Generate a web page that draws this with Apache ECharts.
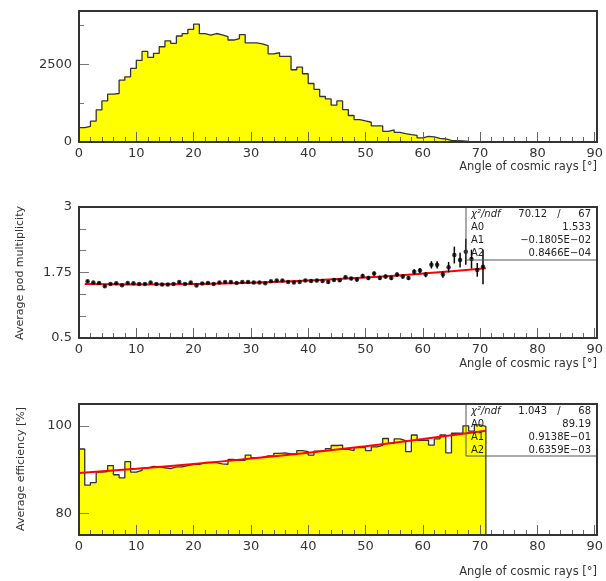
<!DOCTYPE html>
<html><head><meta charset="utf-8">
<script src="https://cdn.jsdelivr.net/npm/echarts@6/dist/echarts.min.js"></script>
<style>html,body{margin:0;padding:0;background:#fff}#c{width:606px;height:581px}</style>
</head><body><div id="c"></div>
<script>
// ---- data ----
// Panel 1: counts per 1-degree bin, 0..90
const angleCounts = [465, 507, 672, 1035, 1324, 1541, 1563, 1993, 2100, 2370,
  2628, 2918, 2726, 2855, 3069, 3258, 3178, 3414, 3490, 3630,
  3795, 3490, 3440, 3495, 3450, 3392, 3285, 3334, 3462, 3190,
  3190, 3160, 3105, 2840, 2875, 2757, 2757, 2327, 2410, 2198,
  1885, 1697, 1465, 1389, 1185, 1324, 1046, 853, 723, 678,
  636, 517, 517, 345, 388, 313, 270, 238, 216, 130,
  184, 162, 120, 97, 55, 45, 35, 20, 15, 5,
  0, 0, 0, 0, 0, 0, 0, 0, 0, 0,
  0, 0, 0, 0, 0, 0, 0, 0, 0, 0];

// Panel 2: average pod multiplicity at bin centres 1.5 .. 70.5
const podMult = [1.583, 1.558, 1.550, 1.487, 1.530, 1.544, 1.506, 1.550, 1.544, 1.530,
  1.530, 1.558, 1.530, 1.519, 1.519, 1.530, 1.570, 1.530, 1.558, 1.500,
  1.540, 1.550, 1.530, 1.558, 1.570, 1.570, 1.550, 1.570, 1.570, 1.558,
  1.558, 1.544, 1.583, 1.596, 1.596, 1.570, 1.558, 1.570, 1.596, 1.590,
  1.596, 1.590, 1.570, 1.608, 1.602, 1.660, 1.634, 1.615, 1.685, 1.646,
  1.730, 1.646, 1.673, 1.646, 1.710, 1.673, 1.646, 1.762, 1.788, 1.710,
  1.896, 1.896, 1.710, 1.852, 2.083, 1.987, 2.146, 2.006, 1.800, 1.858];
const podErr = [0.02, 0.02, 0.02, 0.02, 0.02, 0.02, 0.02, 0.02, 0.02, 0.02,
  0.02, 0.02, 0.02, 0.02, 0.02, 0.02, 0.02, 0.02, 0.02, 0.02,
  0.02, 0.02, 0.02, 0.02, 0.02, 0.02, 0.02, 0.02, 0.02, 0.02,
  0.02, 0.02, 0.02, 0.02, 0.02, 0.02, 0.02, 0.02, 0.03, 0.03,
  0.03, 0.03, 0.03, 0.03, 0.03, 0.03, 0.03, 0.04, 0.04, 0.04,
  0.04, 0.04, 0.04, 0.04, 0.04, 0.04, 0.04, 0.05, 0.05, 0.05,
  0.07, 0.07, 0.06, 0.10, 0.16, 0.14, 0.25, 0.18, 0.13, 0.33];
const podFitX = [1, 10, 20, 30, 40, 50, 60, 71];
const podFit  = [1.531, 1.523, 1.531, 1.555, 1.596, 1.654, 1.730, 1.832];

// Panel 3: average efficiency per 1-degree bin, 0..70 (empty beyond)
const effValues = [94.7, 86.4, 87.0, 89.4, 89.5, 90.9, 88.8, 88.1, 91.8, 89.4,
  89.8, 90.3, 90.7, 90.6, 90.4, 90.2, 90.6, 90.6, 90.9, 91.2,
  91.2, 91.6, 91.6, 91.6, 91.3, 91.2, 92.3, 92.1, 92.1, 93.3,
  92.7, 92.8, 93.1, 93.2, 93.7, 93.8, 93.6, 93.6, 94.3, 94.1,
  93.3, 94.2, 94.3, 94.8, 95.5, 95.6, 94.6, 94.3, 95.0, 95.0,
  94.3, 95.2, 95.5, 97.1, 96.0, 97.0, 96.6, 94.1, 97.9, 96.7,
  96.7, 95.6, 97.0, 97.9, 93.8, 98.3, 98.4, 100.0, 98.8, 100.2,
  99.9, 0, 0, 0, 0, 0, 0, 0, 0, 0,
  0, 0, 0, 0, 0, 0, 0, 0, 0, 0];
const effFitX = [0, 10, 20, 30, 40, 50, 60, 71];
const effFit  = [89.19, 90.17, 91.27, 92.50, 93.86, 95.35, 96.96, 98.89];

const xTitle = 'Angle of cosmic rays [°]';
const stats2 = [['χ²/ndf', '70.12', '67'], ['A0', '1.533'], ['A1', '−0.1805E−02'], ['A2', '0.8466E−04']];
const stats3 = [['χ²/ndf', '1.043', '68'], ['A0', '89.19'], ['A1', '0.9138E−01'], ['A2', '0.6359E−03']];

// ---- layout ----
const L = 79, W = 518, H = 131;
const tops = [11, 207, 404];
const FONT = 'DejaVu Sans';

function stepData(vals) {
  const d = vals.map((v, i) => [i, v]);
  d.push([vals.length, vals[vals.length - 1]]);
  return d;
}

const chart = echarts.init(document.getElementById('c'), null, {renderer: 'canvas'});

const grids = tops.map(t => ({left: L, top: t, width: W, height: H, show: false}));

const xAxes = tops.map((t, i) => ({
  type: 'value', gridIndex: i, min: 0, max: 90, interval: 10, z: 5,
  axisLine: {show: false},
  axisTick: {show: true, inside: true, length: 10, lineStyle: {color: '#666', width: 1}},
  minorTick: {show: true, splitNumber: 5, length: 5, lineStyle: {color: '#666', width: 1}},
  splitLine: {show: false}, minorSplitLine: {show: false},
  axisLabel: {fontFamily: FONT, fontSize: 13, color: '#333', margin: 5, formatter: v => String(v)}
}));

const yLab = {fontFamily: FONT, fontSize: 13, color: '#333', margin: 7, formatter: v => String(v)};
const yAxes = [
  {type: 'value', gridIndex: 0, min: 0, max: 4220, z: 5,
   axisLine: {show: false}, splitLine: {show: false},
   axisTick: {show: true, inside: true, length: 10, customValues: [0, 2500], lineStyle: {color: '#777'}},
   axisLabel: Object.assign({customValues: [0, 2500]}, yLab)},
  {type: 'value', gridIndex: 0, min: 0, max: 4220, z: 5, position: 'left',
   axisLine: {show: false}, splitLine: {show: false},
   axisTick: {show: true, inside: true, length: 5, customValues: [1250, 3750], lineStyle: {color: '#777'}},
   axisLabel: {show: false}},
  {type: 'value', gridIndex: 1, min: 0.5, max: 3, interval: 1.25, z: 5,
   axisLine: {show: false}, splitLine: {show: false},
   axisTick: {show: true, inside: true, length: 10, lineStyle: {color: '#777'}},
   minorTick: {show: true, splitNumber: 3, length: 7, lineStyle: {color: '#777'}},
   axisLabel: yLab},
  {type: 'value', gridIndex: 2, min: 75, max: 105, z: 5,
   axisLine: {show: false}, splitLine: {show: false},
   axisTick: {show: true, inside: true, length: 10, customValues: [80, 100], lineStyle: {color: '#777'}},
   axisLabel: Object.assign({customValues: [80, 100]}, yLab)}
];

const histLine = {color: '#333', width: 1.3};
const series = [
  {type: 'line', xAxisIndex: 0, yAxisIndex: 0, step: 'end', data: stepData(angleCounts),
   symbol: 'none', lineStyle: histLine, areaStyle: {color: '#ffff00', opacity: 1, origin: 'start'}, z: 2},
  {type: 'line', xAxisIndex: 1, yAxisIndex: 2, data: podFitX.map((x, i) => [x, podFit[i]]),
   smooth: true, symbol: 'none', lineStyle: {color: '#ff0000', width: 2}, z: 3},
  {type: 'custom', xAxisIndex: 1, yAxisIndex: 2,
   data: podMult.map((v, i) => [i + 1.5, v - podErr[i], v + podErr[i]]),
   encode: {x: 0, y: [1, 2]},
   renderItem: function (params, api) {
     const x = api.value(0);
     const p1 = api.coord([x, api.value(1)]), p2 = api.coord([x, api.value(2)]);
     return {type: 'line', shape: {x1: p1[0], y1: p1[1], x2: p2[0], y2: p2[1]},
             style: {stroke: '#000', lineWidth: 1.5}};
   }, z: 4},
  {type: 'scatter', xAxisIndex: 1, yAxisIndex: 2, data: podMult.map((v, i) => [i + 1.5, v]),
   symbol: 'circle', symbolSize: 4.5, itemStyle: {color: '#000'}, z: 4},
  {type: 'line', xAxisIndex: 2, yAxisIndex: 3, step: 'end', data: stepData(effValues),
   symbol: 'none', lineStyle: histLine, areaStyle: {color: '#ffff00', opacity: 1, origin: 'start'}, clip: true, z: 2},
  {type: 'line', xAxisIndex: 2, yAxisIndex: 3, data: effFitX.map((x, i) => [x, effFit[i]]),
   smooth: true, symbol: 'none', lineStyle: {color: '#ff0000', width: 2}, z: 3}
];

// ---- graphics: frames, titles, stats boxes ----
const graphic = [];
tops.forEach(t => {
  graphic.push({type: 'rect', z: 100, shape: {x: L, y: t, width: W, height: H},
    style: {fill: null, stroke: '#333', lineWidth: 2}});
});
const titleY = [167, 364, 572];
titleY.forEach(y => graphic.push({type: 'text', z: 100, x: 597, y: y,
  style: {text: xTitle, font: '11.5px "' + FONT + '"', fill: '#333', align: 'right', verticalAlign: 'middle'}}));
graphic.push({type: 'text', z: 100, x: 20, y: 273, rotation: Math.PI / 2,
  style: {text: 'Average pod multiplicity', font: '11px "' + FONT + '"', fill: '#333', align: 'center', verticalAlign: 'middle'}});
graphic.push({type: 'text', z: 100, x: 21, y: 469, rotation: Math.PI / 2,
  style: {text: 'Average efficiency [%]', font: '11px "' + FONT + '"', fill: '#333', align: 'center', verticalAlign: 'middle'}});

function statsBox(top, bottom, rows) {
  const bx = 466, right = L + W;
  graphic.push({type: 'line', z: 90, shape: {x1: bx, y1: top, x2: bx, y2: bottom}, style: {stroke: '#555', lineWidth: 1}});
  graphic.push({type: 'line', z: 90, shape: {x1: bx, y1: bottom, x2: right, y2: bottom}, style: {stroke: '#555', lineWidth: 1}});
  const rowH = (bottom - top) / rows.length;
  rows.forEach((r, i) => {
    const y = top + rowH * (i + 0.5) + 0.5;
    const f = '10px "' + FONT + '"';
    graphic.push({type: 'text', z: 100, x: 471, y: y, style: {text: r[0], font: (i === 0 ? 'italic ' : '') + f, fill: '#222', align: 'left', verticalAlign: 'middle'}});
    if (r.length === 3) {
      graphic.push({type: 'text', z: 100, x: 547, y: y, style: {text: r[1], font: f, fill: '#222', align: 'right', verticalAlign: 'middle'}});
      graphic.push({type: 'text', z: 100, x: 559, y: y, style: {text: '/', font: f, fill: '#222', align: 'center', verticalAlign: 'middle'}});
      graphic.push({type: 'text', z: 100, x: 591, y: y, style: {text: r[2], font: f, fill: '#222', align: 'right', verticalAlign: 'middle'}});
    } else {
      graphic.push({type: 'text', z: 100, x: 591, y: y, style: {text: r[1], font: f, fill: '#222', align: 'right', verticalAlign: 'middle'}});
    }
  });
}
statsBox(207, 260, stats2);
statsBox(404, 456, stats3);

chart.setOption({
  animation: false,
  backgroundColor: '#fff',
  grid: grids, xAxis: xAxes, yAxis: yAxes, series: series, graphic: graphic
});
</script></body></html>
